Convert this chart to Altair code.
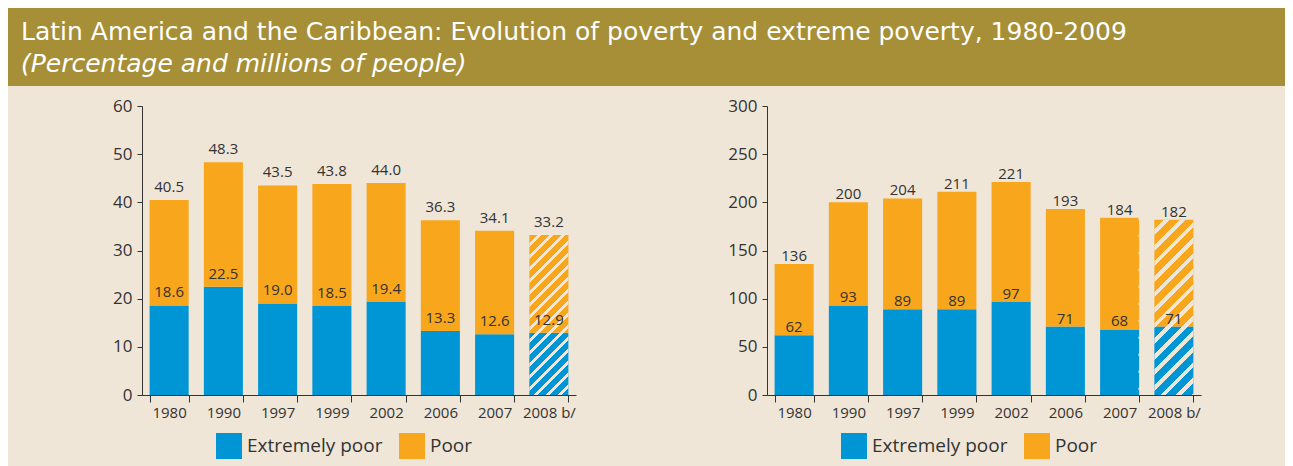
import math
import altair as alt
import pandas as pd

# ---------------- data ----------------
years = ["1980", "1990", "1997", "1999", "2002", "2006", "2007", "2008 b/"]
projected_year = "2008 b/"
last_observed_year = "2007"
series_names = ["Extremely poor", "Poor"]

pct_poor = [40.5, 48.3, 43.5, 43.8, 44.0, 36.3, 34.1, 33.2]
pct_extreme = [18.6, 22.5, 19.0, 18.5, 19.4, 13.3, 12.6, 12.9]
pct_ticks = [0, 10, 20, 30, 40, 50, 60]

mil_poor = [136, 200, 204, 211, 221, 193, 184, 182]
mil_extreme = [62, 93, 89, 89, 97, 71, 68, 71]
mil_ticks = [0, 50, 100, 150, 200, 250, 300]

title_line1 = "Latin America and the Caribbean: Evolution of poverty and extreme poverty, 1980-2009"
title_line2 = "(Percentage and millions of people)"

# ---------------- style ----------------
BLUE = "#0096D6"
ORANGE = "#F8A61C"
BEIGE = "#F0E6D8"
OLIVE = "#A68F36"
TEXT = "#333333"
FONT = "Open Sans"
TITLE_FONT = "DejaVu Sans"

PLOT_W = 434
PLOT_H = 289
PAD_INNER = 0.28
PAD_OUTER = 0.14
LEFT_EXTENT = 134      # room for the left y axis (page margin excluded)
RIGHT_EXTENT = 191     # gap from left panel to right plot
TOTAL_W = 1277


def hatch_gradient(w, h, period, white_frac):
    """Diagonal '/' stripes as a linear gradient in bounding-box units."""
    r = w / h
    s = (r + 1) / (r * r + 1)
    dist = (w + h) / math.sqrt(2)
    n = dist / period
    stops = []
    k = 0
    while k / n < 1:
        a = round(k / n, 4)
        b = round(min((k + 1 - white_frac) / n, 1), 4)
        c = round(min((k + 1) / n, 1), 4)
        stops += [
            {"offset": a, "color": "transparent"},
            {"offset": b, "color": "transparent"},
            {"offset": b, "color": BEIGE},
            {"offset": c, "color": BEIGE},
        ]
        k += 1
    return {"gradient": "linear", "x1": 0, "y1": 0,
            "x2": round(s * r, 4), "y2": round(s, 4), "stops": stops}


def panel(poor, extreme, ticks, ymax, fmt, y_extent, dy_total, dy_ext,
          period, dashed):
    df = pd.DataFrame({"year": years, "poor": poor, "extreme": extreme})
    n = len(years)
    long = pd.DataFrame({
        "year": years * 2,
        "series": [series_names[0]] * n + [series_names[1]] * n,
        "lo": [0] * n + list(extreme),
        "hi": list(extreme) + list(poor),
    })

    def xenc(band_pos=None):
        kw = {}
        if band_pos is not None:
            kw["bandPosition"] = band_pos
        return alt.X(
            "year:N", sort=years,
            scale=alt.Scale(paddingInner=PAD_INNER, paddingOuter=PAD_OUTER),
            axis=alt.Axis(title=None, labelAngle=0, tickBand="extent",
                          tickSize=7, labelPadding=3, labelFontSize=15,
                          labelFont=FONT, labelColor=TEXT, domainColor=TEXT,
                          tickColor=TEXT, grid=False),
            **kw)

    yscale = alt.Scale(domain=[0, ymax], nice=False, zero=True)
    yaxis = alt.Axis(title=None, values=ticks, tickSize=5, labelPadding=5,
                     labelFontSize=17, labelFont=FONT, labelColor=TEXT,
                     domainColor=TEXT, tickColor=TEXT, grid=False,
                     minExtent=y_extent)

    bars = alt.Chart(long).mark_bar(strokeWidth=0).encode(
        x=xenc(),
        y=alt.Y("hi:Q", scale=yscale, axis=yaxis),
        y2="lo:Q",
        color=alt.Color(
            "series:N",
            scale=alt.Scale(domain=series_names, range=[BLUE, ORANGE]),
            legend=alt.Legend(
                title=None, orient="none", legendX=74, legendY=327,
                direction="horizontal", symbolType="square", symbolSize=676,
                symbolStrokeWidth=0, symbolOpacity=1, labelFontSize=19,
                labelFont=FONT, labelColor=TEXT, labelOffset=5,
                columnPadding=16),
        ),
    )

    band_w = PLOT_W / len(years) * (1 - PAD_INNER)
    proj_total = poor[years.index(projected_year)]
    bar_h = proj_total / ymax * PLOT_H
    hatch = alt.Chart(df).transform_filter(
        alt.datum.year == projected_year
    ).mark_bar(fill=hatch_gradient(band_w, bar_h, period, 0.36),
               strokeWidth=0).encode(
        x=xenc(), y="poor:Q", y2=alt.datum(0)
    )

    layers = [bars, hatch]

    if dashed:
        rule = alt.Chart(df).transform_filter(
            alt.datum.year == last_observed_year
        ).mark_rule(color=BEIGE, strokeDash=[2, 15], strokeWidth=1.5).encode(
            x=xenc(1), y="poor:Q", y2=alt.datum(0)
        )
        layers.append(rule)

    lbl_total = alt.Chart(df).mark_text(
        baseline="alphabetic", dy=dy_total, fontSize=15, font=FONT, color=TEXT
    ).encode(x=xenc(), y="poor:Q", text=alt.Text("poor:Q", format=fmt))

    lbl_ext = alt.Chart(df).mark_text(
        baseline="alphabetic", dy=dy_ext, fontSize=15, font=FONT, color=TEXT
    ).encode(x=xenc(), y="extreme:Q", text=alt.Text("extreme:Q", format=fmt))

    layers += [lbl_total, lbl_ext]
    return alt.layer(*layers).properties(width=PLOT_W, height=PLOT_H)


left = panel(pct_poor, pct_extreme, pct_ticks, 60, ".1f", LEFT_EXTENT, -8, -8, 8.5, False)
right = panel(mil_poor, mil_extreme, mil_ticks, 300, ".0f", RIGHT_EXTENT, -3, -3, 11, True)

row = alt.hconcat(left, right, spacing=0).resolve_legend(color="independent")

# Banner: its view is aligned with the left plot, so the band is drawn
# from -LEFT_EXTENT to reach the chart's left edge.
banner_df = pd.DataFrame({"l1": [title_line1], "l2": [title_line2]})
banner_w = TOTAL_W - LEFT_EXTENT
band = alt.Chart(banner_df).mark_rect(color=OLIVE).encode(
    x=alt.value(-LEFT_EXTENT), x2=alt.value(banner_w),
    y=alt.value(0), y2=alt.value(78),
)
banner1 = alt.Chart(banner_df).mark_text(
    align="left", baseline="alphabetic", fontSize=25, font=TITLE_FONT,
    color="white"
).encode(x=alt.value(13 - LEFT_EXTENT), y=alt.value(32), text="l1:N")
banner2 = alt.Chart(banner_df).mark_text(
    align="left", baseline="alphabetic", fontSize=25, font=TITLE_FONT,
    color="white", fontStyle="italic"
).encode(x=alt.value(13 - LEFT_EXTENT), y=alt.value(64), text="l2:N")
banner = alt.layer(band, banner1, banner2).properties(width=banner_w, height=78)

chart = alt.vconcat(banner, row, spacing=11).properties(
    padding={"left": 0, "top": 0, "right": 0, "bottom": 30},
    background=BEIGE,
).configure_view(stroke="transparent", strokeWidth=0)

chart.save("out.html", embed_options={"renderer": "svg", "actions": False})
